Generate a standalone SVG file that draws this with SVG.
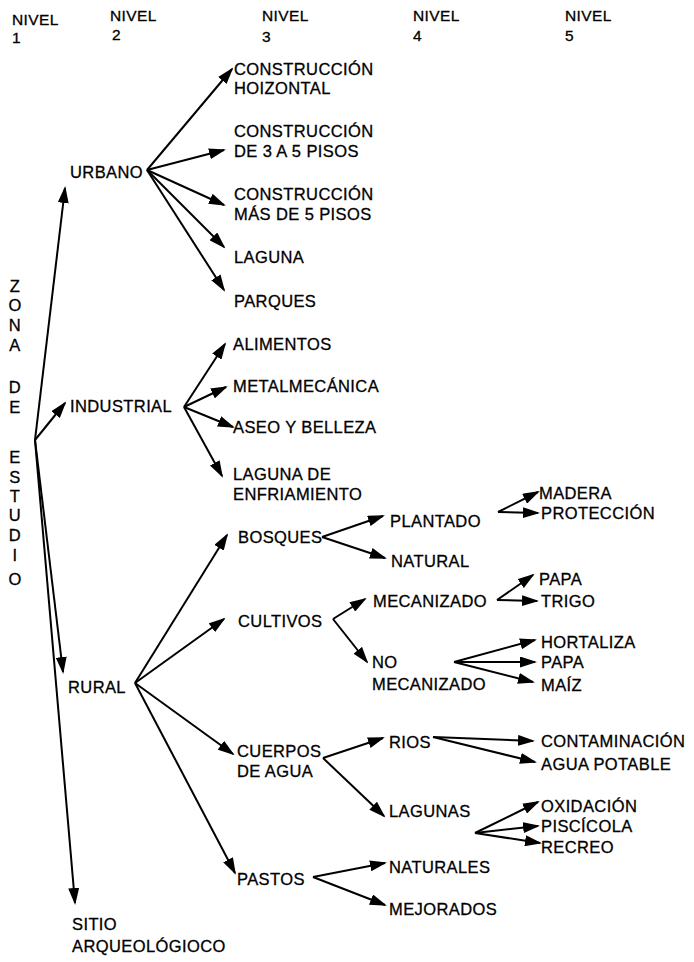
<svg xmlns="http://www.w3.org/2000/svg" width="694" height="962" viewBox="0 0 694 962">
  <defs>
    <marker id="arrow" markerUnits="userSpaceOnUse" markerWidth="17" markerHeight="11" refX="15" refY="5.5" orient="auto">
      <path d="M0,0 L17,5.5 L0,11 Z" fill="#000"/>
    </marker>
  </defs>
  <style>
    text { font-family: "Liberation Sans", Arial, sans-serif; font-size: 16.5px; letter-spacing: 0.4px; fill: #000; stroke: #000; stroke-width: 0.3px; }
    .hdr { font-size: 15.5px; }
    .vert { text-anchor: middle; }
    #connectors line { stroke: #000; stroke-width: 2; marker-end: url(#arrow); }
  </style>
  <rect width="694" height="962" fill="#fff"/>

  <!-- level headings -->
  <g id="headers">
    <text class="hdr" x="12" y="25">NIVEL</text><text class="hdr" x="12" y="43">1</text>
    <text class="hdr" x="110" y="21">NIVEL</text><text class="hdr" x="112" y="40">2</text>
    <text class="hdr" x="262" y="21">NIVEL</text><text class="hdr" x="262" y="42">3</text>
    <text class="hdr" x="413" y="21">NIVEL</text><text class="hdr" x="413" y="41">4</text>
    <text class="hdr" x="565" y="21">NIVEL</text><text class="hdr" x="565" y="41">5</text>
  </g>

  <!-- root: vertical title -->
  <g id="zona-de-estudio" class="vert">
    <text x="15" y="292">Z</text>
    <text x="15" y="311">O</text>
    <text x="15" y="331">N</text>
    <text x="15" y="351">A</text>
    <text x="15" y="393">D</text>
    <text x="15" y="413">E</text>
    <text x="15" y="463">E</text>
    <text x="15" y="483">S</text>
    <text x="15" y="502">T</text>
    <text x="15" y="521">U</text>
    <text x="15" y="541">D</text>
    <text x="15" y="561">I</text>
    <text x="15" y="585">O</text>
  </g>

  <!-- level 2 -->
  <g id="urbano"><text x="70" y="178">URBANO</text></g>
  <g id="industrial"><text x="70" y="412">INDUSTRIAL</text></g>
  <g id="rural"><text x="68" y="693">RURAL</text></g>
  <g id="sitio"><text x="72" y="930">SITIO</text><text x="72" y="952">ARQUEOLÓGIOCO</text></g>

  <!-- level 3 -->
  <g id="const-horizontal"><text x="234" y="75">CONSTRUCCIÓN</text><text x="234" y="94">HOIZONTAL</text></g>
  <g id="const-3-5"><text x="234" y="137">CONSTRUCCIÓN</text><text x="234" y="157">DE 3 A 5 PISOS</text></g>
  <g id="const-mas-5"><text x="234" y="200">CONSTRUCCIÓN</text><text x="234" y="220">MÁS DE 5 PISOS</text></g>
  <g id="laguna"><text x="234" y="263">LAGUNA</text></g>
  <g id="parques"><text x="234" y="307">PARQUES</text></g>
  <g id="alimentos"><text x="233" y="350">ALIMENTOS</text></g>
  <g id="metalmecanica"><text x="233" y="392">METALMECÁNICA</text></g>
  <g id="aseo"><text x="233" y="433">ASEO Y BELLEZA</text></g>
  <g id="laguna-enfriamiento"><text x="233" y="480">LAGUNA DE</text><text x="233" y="500">ENFRIAMIENTO</text></g>
  <g id="bosques"><text x="238" y="543">BOSQUES</text></g>
  <g id="cultivos"><text x="238" y="627">CULTIVOS</text></g>
  <g id="cuerpos-agua"><text x="237" y="757">CUERPOS</text><text x="237" y="777">DE AGUA</text></g>
  <g id="pastos"><text x="237" y="885">PASTOS</text></g>

  <!-- level 4 -->
  <g id="plantado"><text x="390" y="527">PLANTADO</text></g>
  <g id="natural"><text x="391" y="567">NATURAL</text></g>
  <g id="mecanizado"><text x="373" y="607">MECANIZADO</text></g>
  <g id="no-mecanizado"><text x="372" y="668">NO</text><text x="372" y="690">MECANIZADO</text></g>
  <g id="rios"><text x="389" y="748">RIOS</text></g>
  <g id="lagunas"><text x="389" y="817">LAGUNAS</text></g>
  <g id="naturales"><text x="389" y="873">NATURALES</text></g>
  <g id="mejorados"><text x="389" y="915">MEJORADOS</text></g>

  <!-- level 5 -->
  <g id="madera"><text x="539" y="499">MADERA</text></g>
  <g id="proteccion"><text x="541" y="519">PROTECCIÓN</text></g>
  <g id="papa-mec"><text x="539" y="585">PAPA</text></g>
  <g id="trigo"><text x="541" y="607">TRIGO</text></g>
  <g id="hortaliza"><text x="541" y="648">HORTALIZA</text></g>
  <g id="papa-nomec"><text x="541" y="668">PAPA</text></g>
  <g id="maiz"><text x="541" y="691">MAÍZ</text></g>
  <g id="contaminacion"><text x="541" y="747">CONTAMINACIÓN</text></g>
  <g id="agua-potable"><text x="541" y="770">AGUA POTABLE</text></g>
  <g id="oxidacion"><text x="541" y="812">OXIDACIÓN</text></g>
  <g id="piscicola"><text x="541" y="832">PISCÍCOLA</text></g>
  <g id="recreo"><text x="541" y="853">RECREO</text></g>

  <!-- arrows -->
  <g id="connectors">
    <!-- root to level 2 -->
    <line x1="35" y1="440" x2="65" y2="188"/>
    <line x1="35" y1="440" x2="65" y2="403"/>
    <line x1="35" y1="440" x2="63" y2="672"/>
    <line x1="35" y1="440" x2="75" y2="903"/>
    <!-- urbano -->
    <line x1="147" y1="170" x2="232" y2="69"/>
    <line x1="147" y1="170" x2="224" y2="150"/>
    <line x1="147" y1="170" x2="224" y2="205"/>
    <line x1="147" y1="170" x2="224" y2="247"/>
    <line x1="147" y1="170" x2="224" y2="290"/>
    <!-- industrial -->
    <line x1="184" y1="407" x2="225" y2="344"/>
    <line x1="184" y1="407" x2="226" y2="387"/>
    <line x1="184" y1="407" x2="233" y2="427"/>
    <line x1="184" y1="407" x2="222" y2="476"/>
    <!-- rural -->
    <line x1="135" y1="683" x2="227" y2="535"/>
    <line x1="135" y1="683" x2="224" y2="619"/>
    <line x1="135" y1="683" x2="233" y2="754"/>
    <line x1="135" y1="683" x2="235" y2="873"/>
    <!-- bosques -->
    <line x1="322" y1="537" x2="383" y2="516"/>
    <line x1="322" y1="537" x2="385" y2="558"/>
    <line x1="498" y1="512" x2="538" y2="492"/>
    <line x1="498" y1="512" x2="538" y2="513"/>
    <!-- cultivos -->
    <line x1="333" y1="619" x2="365" y2="599"/>
    <line x1="333" y1="619" x2="367" y2="662"/>
    <line x1="497" y1="600" x2="533" y2="575"/>
    <line x1="497" y1="600" x2="537" y2="601"/>
    <line x1="454" y1="662" x2="535" y2="640"/>
    <line x1="454" y1="662" x2="535" y2="662"/>
    <line x1="454" y1="662" x2="533" y2="682"/>
    <!-- cuerpos de agua -->
    <line x1="323" y1="758" x2="383" y2="738"/>
    <line x1="323" y1="758" x2="384" y2="816"/>
    <line x1="433" y1="737" x2="533" y2="741"/>
    <line x1="433" y1="737" x2="535" y2="762"/>
    <line x1="475" y1="833" x2="538" y2="802"/>
    <line x1="475" y1="833" x2="538" y2="826"/>
    <line x1="475" y1="833" x2="540" y2="843"/>
    <!-- pastos -->
    <line x1="313" y1="877" x2="385" y2="863"/>
    <line x1="313" y1="877" x2="385" y2="905"/>
  </g>
</svg>
